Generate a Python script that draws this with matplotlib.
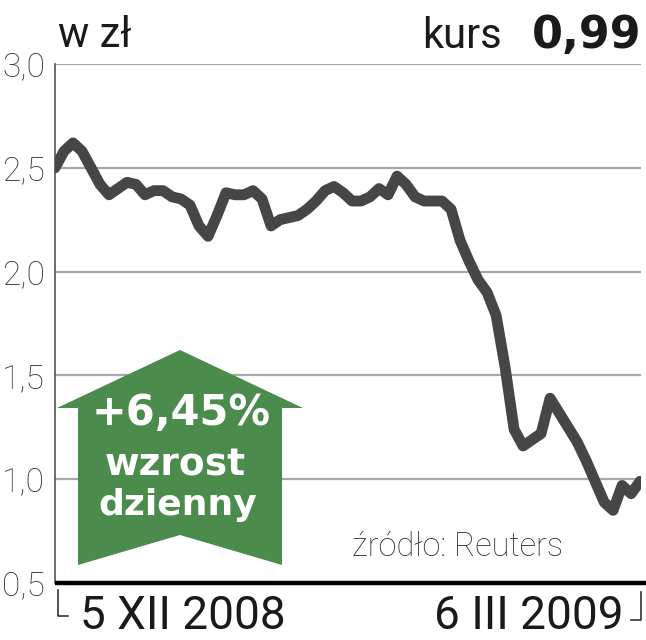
"""
Kurs akcji (w zł), 5 XII 2008 - 6 III 2009, z zieloną strzałką dziennego wzrostu.
"""

import matplotlib
matplotlib.use("Agg")
import matplotlib.pyplot as plt
from matplotlib.patches import Polygon
from matplotlib.lines import Line2D

# ── Data ───────────────────────────────────────────────────────────────────────

PRICES = [
    2.50, 2.58, 2.62, 2.58, 2.50, 2.42, 2.37, 2.40, 2.43, 2.42,
    2.37, 2.39, 2.39, 2.36, 2.35, 2.32, 2.22, 2.17, 2.27, 2.38,
    2.37, 2.37, 2.39, 2.35, 2.22, 2.25, 2.26, 2.27, 2.30, 2.34,
    2.39, 2.41, 2.38, 2.34, 2.34, 2.36, 2.40, 2.37, 2.46, 2.42,
    2.36, 2.34, 2.34, 2.34, 2.30, 2.15, 2.05, 1.96, 1.90, 1.79,
    1.54, 1.24, 1.16, 1.19, 1.22, 1.39, 1.32, 1.25, 1.18, 1.09,
    0.99, 0.89, 0.85, 0.97, 0.93, 0.99,
]
DAYS = list(range(len(PRICES)))

Y_TICKS  = [0.5, 1.0, 1.5, 2.0, 2.5, 3.0]
Y_LABELS = ["0,5", "1,0", "1,5", "2,0", "2,5", "3,0"]

START_LABEL = "5 XII 2008"
END_LABEL   = "6 III 2009"
LAST_PRICE  = "0,99"
CHANGE      = "+6,45%"

# ── Style ──────────────────────────────────────────────────────────────────────

plt.rcParams["font.family"] = ["Roboto", "DejaVu Sans"]

W, H = 646, 640
LINE_C  = "#464646"
GRID_C  = "#a8a8a8"
GREEN   = "#4b8b4b"
TEXT_C  = "#1a1a1a"
BOLD_FONT = ["DejaVu Sans"]


def fx(px):
    return px / W


def fy(py):
    return 1 - py / H


fig = plt.figure(figsize=(W / 100, H / 100), dpi=100)
ax = fig.add_axes([fx(55), fy(583), fx(641) - fx(55), fy(64) - fy(583)])

# ── Grid + line ────────────────────────────────────────────────────────────────

for v in Y_TICKS[1:]:
    ax.axhline(v, color=GRID_C, linewidth=1.6, zorder=1)

ax.plot(DAYS, PRICES, color=LINE_C, linewidth=7.8,
        solid_joinstyle="round", solid_capstyle="round", zorder=3)

ax.set_xlim(0, len(PRICES) - 1 + 0.1)
ax.set_ylim(0.5, 3.0)
ax.set_xticks([])
ax.set_yticks(Y_TICKS)
ax.set_yticklabels(Y_LABELS, fontweight="light")
ax.tick_params(axis="y", length=0, pad=7, labelsize=24, labelcolor="#333333")

for s in ["top", "right", "bottom"]:
    ax.spines[s].set_visible(False)
ax.spines["left"].set_color("#555555")
ax.spines["left"].set_linewidth(1.2)

# bottom black baseline, runs to the right edge of the figure
fig.add_artist(Line2D([fx(55), 1.0], [fy(583), fy(583)], color="black",
                      linewidth=3.2, solid_capstyle="butt"))

# bracket marks under the axis
fig.add_artist(Line2D([fx(58), fx(58), fx(68)], [fy(590), fy(616), fy(616)],
                      color="#333333", linewidth=1.2))
fig.add_artist(Line2D([fx(631), fx(641), fx(641)], [fy(620), fy(620), fy(592)],
                      color="#333333", linewidth=1.2))

# ── Green arrow ────────────────────────────────────────────────────────────────

arrow_px = [(180, 350), (303, 408), (282, 408), (282, 565), (180, 535),
            (78, 565), (78, 408), (57, 408)]
fig.add_artist(Polygon([(fx(x), fy(y)) for x, y in arrow_px], closed=True,
                       facecolor=GREEN, edgecolor="none", zorder=5))

fig.text(fx(181), fy(425), CHANGE, color="white", fontsize=30,
         family=BOLD_FONT, fontweight="bold", ha="center", va="baseline",
         zorder=6)
fig.text(fx(175), fy(475), "wzrost", color="white", fontsize=27,
         family=BOLD_FONT, fontweight="bold", ha="center", va="baseline",
         zorder=6)
fig.text(fx(178), fy(515), "dzienny", color="white", fontsize=26,
         family=BOLD_FONT, fontweight="bold", ha="center", va="baseline",
         zorder=6)

# ── Texts ──────────────────────────────────────────────────────────────────────

fig.text(fx(58), fy(47), "w zł", fontsize=30, color=TEXT_C, va="baseline")
fig.text(fx(502), fy(48), "kurs", fontsize=30, color=TEXT_C,
         va="baseline", ha="right")
fig.text(fx(641), fy(48), LAST_PRICE, fontsize=32, family=BOLD_FONT,
         fontweight="bold", color=TEXT_C, va="baseline", ha="right")

fig.text(fx(352), fy(556), "źródło: Reuters", fontsize=23.5,
         fontweight="light", color="#333333", va="baseline")

fig.text(fx(80), fy(629), START_LABEL, fontsize=33, color=TEXT_C,
         va="baseline")
fig.text(fx(624), fy(629), END_LABEL, fontsize=33, color=TEXT_C,
         va="baseline", ha="right")

fig.savefig("out.png", dpi=100)
